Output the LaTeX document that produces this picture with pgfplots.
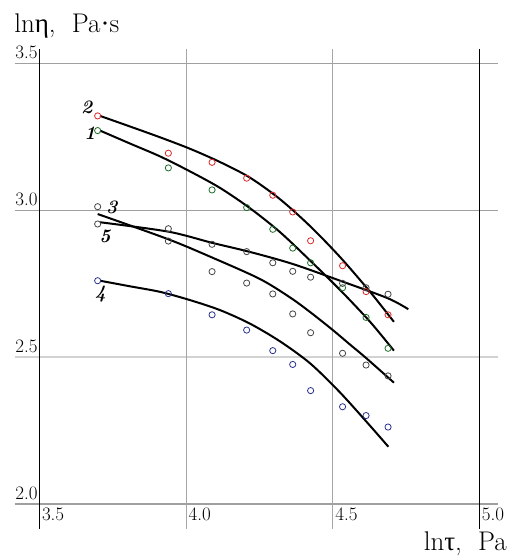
\documentclass[border=0pt]{standalone}
\usepackage{fontspec}
\usepackage{pgfplots}
\pgfplotsset{compat=1.18}
\newfontfamily\grk{Liberation Serif}

\definecolor{ptred}{RGB}{220,40,40}
\definecolor{ptgreen}{RGB}{30,110,40}
\definecolor{ptblack}{RGB}{70,70,70}
\definecolor{ptblue}{RGB}{40,50,140}

\begin{document}
\begin{tikzpicture}[
    ylab/.style={anchor=south east, inner sep=0pt, xshift=-1.5pt, yshift=4pt,
        font=\fontsize{19}{22}\selectfont},
    xlab/.style={anchor=north west, inner sep=0pt, xshift=2.5pt, yshift=-4pt,
        font=\fontsize{19}{22}\selectfont},
    num/.style={font=\fontsize{19}{22}\selectfont\bfseries\itshape, inner sep=0pt},
    ttl/.style={inner sep=0pt, font=\fontsize{27}{31}\selectfont},
]
\begin{axis}[
    scale only axis,
    width=509pt, height=559pt,
    xmin=3.366, xmax=5.1014,
    ymin=1.8128, ymax=3.7155,
    axis lines=none,
    clip=false,
    pts/.style={only marks, mark=o, mark size=3.1pt, mark options={line width=0.8pt}},
    fit/.style={black, line width=2pt, smooth, no marks},
]
\path (axis cs:3.366,1.8128) rectangle (axis cs:5.1014,3.7155);

% grid
\draw[gray!75, line width=1.6pt] (axis cs:3.417,3.5) -- (axis cs:5.064,3.5);
\draw[gray!75, line width=1.3pt] (axis cs:3.417,3.0) -- (axis cs:5.064,3.0);
\draw[gray!35, line width=1.3pt] (axis cs:3.417,2.5) -- (axis cs:5.064,2.5);
\draw[gray!75, line width=1.6pt] (axis cs:3.417,2.0) -- (axis cs:5.064,2.0);
\draw[gray!70, line width=0.9pt] (axis cs:4.0,1.915) -- (axis cs:4.0,3.549);
\draw[gray!70, line width=0.9pt] (axis cs:4.5,1.915) -- (axis cs:4.5,3.549);
\draw[black, line width=0.9pt] (axis cs:3.5,1.915) -- (axis cs:3.5,3.549);
\draw[black, line width=0.9pt] (axis cs:5.0,1.915) -- (axis cs:5.0,3.549);

% tick labels
\node[ylab] at (axis cs:3.5,3.5) {3.5};
\node[ylab] at (axis cs:3.5,3.0) {3.0};
\node[ylab] at (axis cs:3.5,2.5) {2.5};
\node[ylab] at (axis cs:3.5,2.0) {2.0};
\node[xlab] at (axis cs:3.5,2.0) {3.5};
\node[xlab] at (axis cs:4.0,2.0) {4.0};
\node[xlab] at (axis cs:4.5,2.0) {4.5};
\node[xlab] at (axis cs:5.0,2.0) {5.0};

% axis titles
\node[ttl, anchor=base west] at (axis cs:3.414,3.6065)
  {ln{\grk η},\hspace{0.6em}Pa{\grk ·}s};
\node[ttl, anchor=base east] at (axis cs:5.0946,1.8434)
  {ln{\grk τ},\hspace{0.6em}Pa};

% data points
\addplot[pts, ptred] coordinates {
 (3.699,3.321) (3.940,3.194) (4.089,3.163) (4.207,3.109) (4.296,3.051)
 (4.364,2.994) (4.425,2.896) (4.534,2.811) (4.614,2.723) (4.689,2.644)};
\addplot[pts, ptgreen] coordinates {
 (3.699,3.271) (3.940,3.144) (4.089,3.069) (4.207,3.009) (4.296,2.935)
 (4.364,2.871) (4.425,2.821) (4.534,2.736) (4.614,2.635) (4.689,2.530)};
\addplot[pts, ptblack] coordinates {
 (3.699,3.012) (3.940,2.937) (4.089,2.884) (4.207,2.859) (4.296,2.821)
 (4.364,2.792) (4.425,2.772) (4.534,2.751) (4.614,2.736) (4.689,2.714)};
\addplot[pts, ptblack] coordinates {
 (3.699,2.953) (3.940,2.895) (4.089,2.791) (4.207,2.752) (4.296,2.715)
 (4.364,2.647) (4.425,2.583) (4.534,2.513) (4.614,2.473) (4.689,2.436)};
\addplot[pts, ptblue] coordinates {
 (3.699,2.760) (3.940,2.716) (4.089,2.644) (4.207,2.592) (4.296,2.522)
 (4.364,2.475) (4.425,2.386) (4.534,2.331) (4.614,2.301) (4.689,2.262)};

% fitted curves
% 2
\addplot[fit] coordinates {
 (3.707,3.321) (3.809,3.285) (3.912,3.248) (4.014,3.209) (4.116,3.164)
 (4.218,3.111) (4.320,3.038) (4.423,2.946) (4.525,2.841) (4.627,2.723) (4.709,2.620)};
% 1
\addplot[fit] coordinates {
 (3.707,3.271) (3.809,3.227) (3.912,3.183) (4.014,3.132) (4.116,3.076)
 (4.218,3.007) (4.320,2.926) (4.423,2.829) (4.525,2.729) (4.627,2.621) (4.709,2.522)};
% 3
\addplot[fit] coordinates {
 (3.707,2.959) (3.940,2.927) (4.089,2.889) (4.218,2.858) (4.364,2.817)
 (4.534,2.757) (4.689,2.700) (4.758,2.663)};
% 5
\addplot[fit] coordinates {
 (3.699,2.987) (3.940,2.901) (4.089,2.839) (4.252,2.766) (4.355,2.703)
 (4.425,2.652) (4.502,2.591) (4.559,2.543) (4.614,2.497) (4.709,2.413)};
% 4
\addplot[fit] coordinates {
 (3.707,2.760) (3.809,2.741) (3.912,2.722) (4.014,2.694) (4.116,2.660)
 (4.218,2.614) (4.320,2.554) (4.423,2.479) (4.525,2.380) (4.627,2.267) (4.690,2.195)};

% curve numbers
\node[num] at (axis cs:3.662,3.350) {2};
\node[num] at (axis cs:3.673,3.262) {1};
\node[num] at (axis cs:3.747,3.010) {3};
\node[num] at (axis cs:3.724,2.912) {5};
\node[num] at (axis cs:3.709,2.714) {4};
\end{axis}
\end{tikzpicture}
\end{document}
